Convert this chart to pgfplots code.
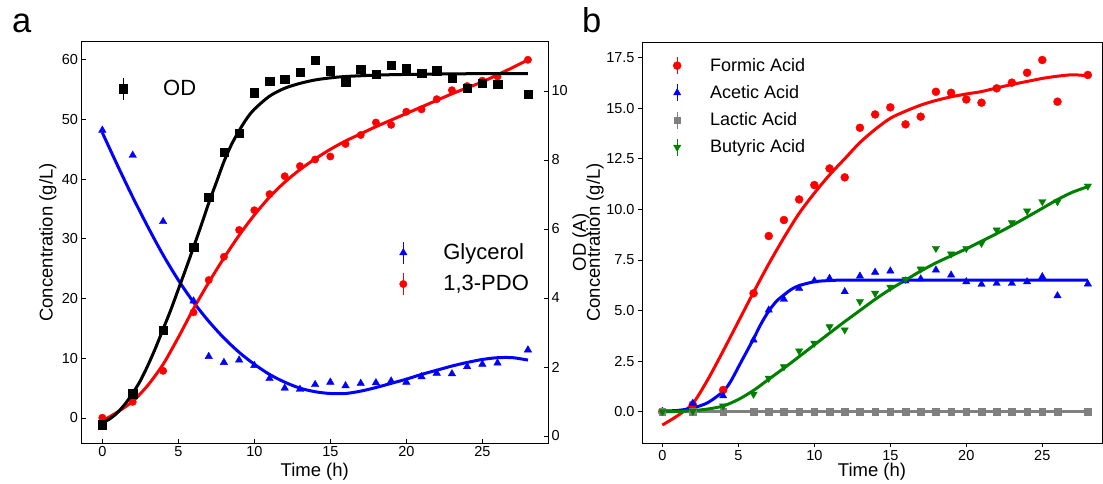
\documentclass[border=0pt]{standalone}
\usepackage{fontspec}
\setmainfont{Liberation Sans}
\usepackage{pgfplots}
\pgfplotsset{compat=1.18}

\definecolor{mred}{RGB}{255,0,0}
\definecolor{mblue}{RGB}{0,0,255}
\definecolor{mgreen}{RGB}{0,128,0}
\definecolor{mgray}{RGB}{128,128,128}

\pgfplotsset{
  every axis/.append style={
    scale only axis,
    /pgf/number format/assume math mode=true,
    tick label style={font=\fontsize{14.5}{16}\selectfont},
    label style={font=\fontsize{18.5}{20}\selectfont},
    major tick length=4pt,
    tick style={black, line width=0.8pt},
    axis line style={line width=1pt},
  },
  fitline/.style={line width=3pt, smooth, no markers, forget plot},
  bigleg/.style={legend image code/.code={
      \draw[mark=none,solid,line width=1.3pt] (10pt,-11pt) -- (10pt,11pt);
      \draw[mark repeat=2,mark phase=2] plot coordinates {(0pt,0pt) (10pt,0pt) (20pt,0pt)};
      \path[draw=none,fill=none] (0pt,-11pt) rectangle (50pt,11pt);}},
  smallleg/.style={legend image code/.code={
      \draw[mark=none,solid,line width=1.2pt] (10pt,-8.5pt) -- (10pt,8.5pt);
      \draw[mark repeat=2,mark phase=2] plot coordinates {(0pt,0pt) (10pt,0pt) (20pt,0pt)};
      \path[draw=none,fill=none] (0pt,-8.7pt) rectangle (43pt,8.7pt);}},
}

\begin{document}
\begin{tikzpicture}[x=1pt,y=1pt]
\useasboundingbox (0,0) rectangle (1103,483);

% panel a: concentrations
\begin{axis}[
  at={(81.5pt,40pt)}, anchor=south west,
  width=466.5pt, height=401pt,
  xmin=-1.37, xmax=29.32, ymin=-4.19, ymax=62.98,
  xtick={0,5,...,25}, ytick={0,10,...,60},
  tick align=inside, xtick pos=left, ytick pos=left,
  xlabel={Time (h)}, ylabel={Concentration (g/L)},
  xlabel style={at={(axis description cs:0.5,-0.072)}, anchor=center},
  ylabel style={at={(axis description cs:-0.072,0.5)}, anchor=center},
  bigleg, legend cell align=left,
  legend style={at={(axis description cs:0.668,0.504)}, anchor=north west,
    draw=none, fill=none, inner sep=0pt, row sep=8pt, column sep=0pt,
    font=\fontsize{22}{24}\selectfont, nodes={inner sep=0pt}},
]
\addplot[only marks, mark=triangle*, mark size=4.3pt, color=mblue] coordinates {
  (0,48.2) (2,44.0) (4,32.9) (6,19.6) (7,10.3) (8,9.3) (9,9.7) (10,8.8)
  (11,6.6) (12,5.0) (13,4.8) (14,5.6) (15,6.0) (16,5.4) (17,5.8) (18,5.9)
  (19,6.2) (20,6.0) (21,6.9) (22,7.5) (23,7.4) (24,8.6) (25,9.0) (26,9.2) (28,11.4)
};
\addlegendentry{Glycerol}
\addplot[only marks, mark=*, mark size=3.7pt, color=mred] coordinates {
  (0,0.05) (2,2.7) (4,7.9) (6,17.7) (7,23.1) (8,27.0) (9,31.5) (10,34.8)
  (11,37.5) (12,40.5) (13,42.2) (14,43.3) (15,43.8) (16,45.9) (17,47.4) (18,49.5)
  (19,49.1) (20,51.3) (21,51.7) (22,53.4) (23,54.9) (24,55.6) (25,56.5) (26,57.2) (28,60.0)
};
\addlegendentry{1,3-PDO}
\addplot[fitline, color=mblue] coordinates {
  (0,47.8) (1,42.3) (2,37.0) (3,32.0) (4,27.3) (5,23.1) (6,19.4) (7,16.2)
  (8,13.4) (9,11.0) (10,9.0) (11,7.3) (12,6.0) (13,5.0) (14,4.4) (15,4.1)
  (16,4.1) (17,4.5) (18,5.1) (19,5.8) (20,6.5) (21,7.3) (22,8.0) (23,8.7)
  (24,9.3) (25,9.8) (26,10.1) (27,10.1) (28,9.7)
};
\addplot[fitline, color=mred] coordinates {
  (0,-0.5) (1,1.0) (2,2.8) (3,5.5) (4,9.0) (5,13.5) (6,18.3) (7,22.7)
  (8,26.8) (9,30.6) (10,34.0) (11,37.0) (12,39.5) (13,41.6) (14,43.4) (15,45.0)
  (16,46.4) (17,47.6) (18,48.8) (19,49.9) (20,51.0) (21,52.1) (22,53.2) (23,54.3)
  (24,55.3) (25,56.3) (26,57.5) (27,58.7) (28,60.0)
};
\end{axis}

% panel a: OD on the right axis
\begin{axis}[
  at={(81.5pt,40pt)}, anchor=south west,
  width=466.5pt, height=401pt,
  xmin=-1.37, xmax=29.32, ymin=-0.203, ymax=11.42,
  axis x line=none, axis y line*=right,
  ytick={0,2,...,10}, tick align=inside,
  ylabel={OD (A)},
  ylabel style={at={(axis description cs:1.071,0.5)}, anchor=center},
  bigleg, legend cell align=left,
  legend style={at={(axis description cs:0.0675,0.9127)}, anchor=north west,
    draw=none, fill=none, inner sep=0pt, column sep=0pt,
    font=\fontsize{22}{24}\selectfont, nodes={inner sep=0pt}},
]
\addplot[only marks, mark=square*, mark size=4.2pt, color=black] coordinates {
  (0,0.33) (2,1.23) (4,3.07) (6,5.47) (7,6.92) (8,8.22) (9,8.77) (10,9.95)
  (11,10.29) (12,10.34) (13,10.54) (14,10.90) (15,10.59) (16,10.27) (17,10.64)
  (18,10.48) (19,10.75) (20,10.66) (21,10.51) (22,10.59) (23,10.37) (24,10.08)
  (25,10.22) (26,10.19) (28,9.90)
};
\addlegendentry{OD}
\addplot[fitline, color=black] coordinates {
  (0,0.38) (0.5,0.5) (1,0.68) (1.5,0.93) (2,1.24) (2.5,1.6) (3,2.05) (3.5,2.55)
  (4,3.1) (4.5,3.65) (5,4.25) (5.5,4.85) (6,5.47) (6.5,6.1) (7,6.75) (7.5,7.35)
  (8,7.95) (8.5,8.45) (9,8.85) (9.5,9.2) (10,9.47) (11,9.85) (12,10.08) (13,10.22)
  (14,10.32) (15,10.38) (16,10.42) (18,10.46) (20,10.48) (24,10.5) (28,10.5)
};
\end{axis}

% panel b: acids
\begin{axis}[
  at={(642pt,40pt)}, anchor=south west,
  width=460pt, height=401pt,
  xmin=-1.34, xmax=28.93, ymin=-1.55, ymax=18.27,
  xtick={0,5,...,25}, ytick={0,2.5,...,17.5},
  yticklabel style={/pgf/number format/.cd, fixed, fixed zerofill, precision=1},
  tick align=outside, xtick pos=left, ytick pos=left,
  xlabel={Time (h)}, ylabel={Concentration (g/L)},
  xlabel style={at={(axis description cs:0.5,-0.072)}, anchor=center},
  ylabel style={at={(axis description cs:-0.102,0.5)}, anchor=center},
  smallleg, legend cell align=left,
  legend style={at={(axis description cs:0.0543,0.9643)}, anchor=north west,
    draw=none, fill=none, inner sep=0pt, row sep=9pt, column sep=0pt,
    font=\fontsize{18}{20}\selectfont, nodes={inner sep=0pt}},
]
\addplot[only marks, mark=*, mark size=4pt, color=mred] coordinates {
  (0,0.0) (2,0.35) (4,1.07) (6,5.85) (7,8.68) (8,9.47) (9,10.49) (10,11.2)
  (11,12.02) (12,11.58) (13,14.03) (14,14.69) (15,15.04) (16,14.2) (17,14.58)
  (18,15.81) (19,15.76) (20,15.43) (21,15.27) (22,15.98) (23,16.26) (24,16.75)
  (25,17.38) (26,15.32) (28,16.64)
};
\addlegendentry{Formic Acid}
\addplot[only marks, mark=triangle*, mark size=4.2pt, color=mblue] coordinates {
  (0,0.0) (2,0.41) (4,0.78) (6,3.54) (7,5.02) (8,5.55) (9,6.1) (10,6.47)
  (11,6.59) (12,5.93) (13,6.7) (14,6.89) (15,6.95) (16,6.46) (17,6.56) (18,7.0)
  (19,6.75) (20,6.42) (21,6.29) (22,6.34) (23,6.34) (24,6.42) (25,6.67) (26,5.73) (28,6.31)
};
\addlegendentry{Acetic Acid}
\addplot[only marks, mark=square*, mark size=3.3pt, color=mgray] coordinates {
  (0,0) (2,0) (4,0) (6,0) (7,0) (8,0) (9,0) (10,0) (11,0) (12,0) (13,0) (14,0)
  (15,0) (16,0) (17,0) (18,0) (19,0) (20,0) (21,0) (22,0) (23,0) (24,0) (25,0) (26,0) (28,0)
};
\addlegendentry{Lactic Acid}
\addplot[only marks, mark=triangle*, mark size=4.2pt, mark options={rotate=180}, color=mgreen] coordinates {
  (0,0.0) (2,0.02) (4,0.28) (6,0.86) (7,1.65) (8,2.22) (9,3.0) (10,3.38)
  (11,4.2) (12,4.04) (13,5.44) (14,5.85) (15,6.15) (16,6.54) (17,7.05) (18,8.07)
  (19,7.79) (20,8.07) (21,8.32) (22,8.98) (23,9.34) (24,9.92) (25,10.38) (26,10.38) (28,11.15)
};
\addlegendentry{Butyric Acid}
\addplot[fitline, color=mred] coordinates {
  (0,-0.66) (1,-0.2) (2,0.4) (3,1.6) (4,3.0) (5,4.45) (6,5.9) (7,7.3)
  (8,8.6) (9,9.8) (10,10.8) (11,11.7) (12,12.5) (13,13.3) (14,13.95) (15,14.5)
  (16,14.85) (17,15.15) (18,15.38) (19,15.56) (20,15.7) (21,15.82) (22,16.0)
  (23,16.17) (24,16.32) (25,16.47) (26,16.58) (27,16.65) (28,16.6)
};
\addplot[fitline, color=mblue] coordinates {
  (0,0.03) (1,0.06) (2,0.18) (3,0.45) (4,1.0) (4.5,1.5) (5,2.2) (5.5,2.9)
  (6,3.6) (6.5,4.35) (7,4.97) (7.5,5.45) (8,5.77) (8.5,6.05) (9,6.23) (10,6.42)
  (11,6.48) (12,6.5) (16,6.5) (20,6.5) (24,6.5) (28,6.5)
};
\addplot[line width=3pt, no markers, forget plot, color=mgray] coordinates {
  (0,0) (28,0)
};
\addplot[fitline, color=mgreen] coordinates {
  (0,0.0) (1,0.01) (2,0.05) (3,0.13) (4,0.28) (5,0.6) (6,1.05) (7,1.6)
  (8,2.15) (9,2.72) (10,3.3) (11,3.88) (12,4.45) (13,5.0) (14,5.55) (15,6.05)
  (16,6.5) (17,6.95) (18,7.35) (19,7.7) (20,8.05) (21,8.42) (22,8.8) (23,9.2)
  (24,9.62) (25,10.05) (26,10.48) (27,10.85) (28,11.12)
};
\end{axis}

\node[font=\fontsize{34.5}{36}\selectfont, anchor=base west, inner sep=0pt] at (12,450) {a};
\node[font=\fontsize{34.5}{36}\selectfont, anchor=base west, inner sep=0pt] at (582,450) {b};
\end{tikzpicture}
\end{document}
